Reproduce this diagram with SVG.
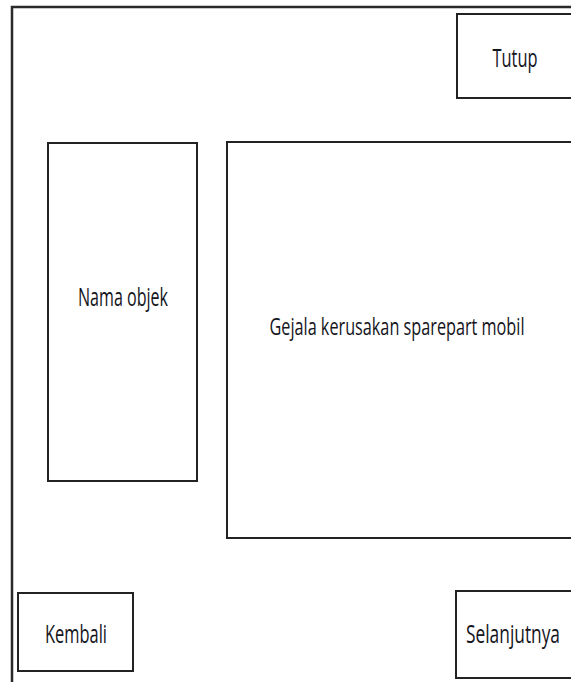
<svg xmlns="http://www.w3.org/2000/svg" width="571" height="682" viewBox="0 0 571 682">
  <style>
    .box { fill: #ffffff; stroke: #222222; stroke-width: 2; }
    .frame { fill: none; stroke: #2a2a2a; stroke-width: 2.5; }
    .label { font-family: "Open Sans", "Liberation Sans", sans-serif; fill: #15151c; text-anchor: middle; }
  </style>
  <rect width="571" height="682" fill="#ffffff"/>

  <!-- window frame -->
  <path class="frame" d="M12,682 V7 H571"/>

  <g id="btn-tutup">
    <rect class="box" x="457" y="14" width="120" height="84"/>
    <text class="label" transform="translate(515,67) scale(1,1.5)" font-size="17" textLength="45" lengthAdjust="spacingAndGlyphs">Tutup</text>
  </g>

  <g id="panel-nama-objek">
    <rect class="box" x="48" y="143" width="149" height="338"/>
    <text class="label" transform="translate(123,306) scale(1,1.5)" font-size="17" textLength="90" lengthAdjust="spacingAndGlyphs">Nama objek</text>
  </g>

  <g id="panel-gejala">
    <rect class="box" x="227" y="142" width="350" height="396"/>
    <text class="label" transform="translate(397,335) scale(1,1.5)" font-size="16" textLength="255" lengthAdjust="spacingAndGlyphs">Gejala kerusakan sparepart mobil</text>
  </g>

  <g id="btn-kembali">
    <rect class="box" x="18" y="593" width="115" height="78"/>
    <text class="label" transform="translate(76,643) scale(1,1.5)" font-size="17" textLength="62" lengthAdjust="spacingAndGlyphs">Kembali</text>
  </g>

  <g id="btn-selanjutnya">
    <rect class="box" x="456" y="591" width="121" height="87"/>
    <text class="label" transform="translate(513,643) scale(1,1.5)" font-size="17" textLength="94" lengthAdjust="spacingAndGlyphs">Selanjutnya</text>
  </g>

  <g id="connectors"/>
</svg>
